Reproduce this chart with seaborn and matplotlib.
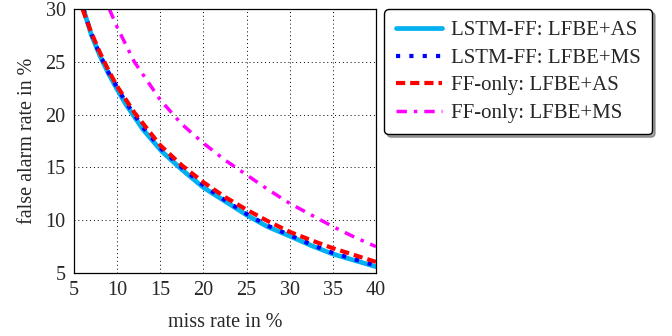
import numpy as np
import pandas as pd
import matplotlib
matplotlib.use("Agg")
import matplotlib.pyplot as plt
import seaborn as sns

# miss rate (x) vs false alarm rate (y)
lstm_as_x = [6.1, 7, 8, 9, 10, 11, 12, 13, 15.2, 17.5, 20, 22.5, 25, 27.4, 30, 32.5, 35, 37.5, 40]
lstm_as_y = [30, 27.6, 25.6, 23.9, 22.4, 21.0, 19.8, 18.6, 16.5, 14.8, 13.1, 11.8, 10.5, 9.4, 8.5, 7.6, 6.8, 6.2, 5.6]

lstm_ms_x = [6.1, 7, 8, 9, 10, 11, 12, 13, 15.2, 17.5, 20, 22.5, 25, 27.4, 30, 32.5, 35, 37.5, 40]
lstm_ms_y = [30, 27.7, 25.7, 24.0, 22.6, 21.2, 20.0, 18.8, 16.7, 15.0, 13.3, 11.9, 10.6, 9.5, 8.6, 7.7, 6.9, 6.3, 5.7]

ff_as_x = [6.0, 7, 8, 9, 10, 12, 15, 17.5, 20, 22.5, 25, 27.5, 30, 32.5, 35, 37.5, 40]
ff_as_y = [30, 27.8, 25.9, 24.2, 22.7, 20.2, 17.1, 15.2, 13.6, 12.2, 11.0, 9.9, 8.9, 8.1, 7.35, 6.7, 6.05]

ff_ms_x = [9.1, 10, 12, 15, 17.5, 20, 22.5, 25, 27.5, 30, 32.5, 35, 37.5, 40]
ff_ms_y = [30, 28.3, 25.0, 21.4, 19.1, 17.3, 15.7, 14.3, 12.9, 11.6, 10.5, 9.4, 8.4, 7.5]

labels = ["LSTM-FF: LFBE+AS", "LSTM-FF: LFBE+MS", "FF-only: LFBE+AS", "FF-only: LFBE+MS"]

sns.set_style("white")
plt.rcParams['font.family'] = ['Liberation Serif', 'DejaVu Serif']

fig = plt.figure(figsize=(6.72, 3.36), dpi=100)
ax = fig.add_axes([0.110, 0.1875, 0.4495, 0.7855])

sns.lineplot(x=lstm_as_x, y=lstm_as_y, ax=ax, color='#00b0f0', lw=3.4, sort=False,
             label=labels[0])
sns.lineplot(x=lstm_ms_x, y=lstm_ms_y, ax=ax, color='#0000ff', lw=3, sort=False,
             linestyle=(0, (1, 2.2)), label=labels[1])
sns.lineplot(x=ff_as_x, y=ff_as_y, ax=ax, color='#ff0000', lw=3, sort=False,
             linestyle=(0, (2.2, 1.2)), label=labels[2])
sns.lineplot(x=ff_ms_x, y=ff_ms_y, ax=ax, color='#ff00ff', lw=2.5, sort=False,
             linestyle=(0, (3, 2, 1, 2)), label=labels[3])

ax.set_xlim(5, 40)
ax.set_ylim(5, 30)
ax.set_xticks(range(5, 41, 5))
ax.set_yticks(range(5, 31, 5))
ax.grid(True, color='black', linestyle=(0, (1, 3)), lw=0.7)
for s in ax.spines.values():
    s.set_color('black')
    s.set_linewidth(0.9)
ax.tick_params(labelsize=14.5, direction='in', length=3, color='black', pad=6)
ax.set_xlabel('miss rate in %', fontsize=14.5, labelpad=9)
ax.set_ylabel('false alarm rate in %', fontsize=14.5, labelpad=6)

leg = ax.legend(loc='upper left', bbox_to_anchor=(0.572, 0.972), bbox_transform=fig.transFigure,
                fontsize=15, frameon=True, fancybox=True, shadow=True,
                handlelength=2.2, handletextpad=0.45, labelspacing=0.38, borderpad=0.55,
                borderaxespad=0)
leg.get_frame().set_edgecolor('black')
leg.get_frame().set_linewidth(1.0)
leg.get_frame().set_alpha(1)

fig.savefig('out.png', dpi=100)
